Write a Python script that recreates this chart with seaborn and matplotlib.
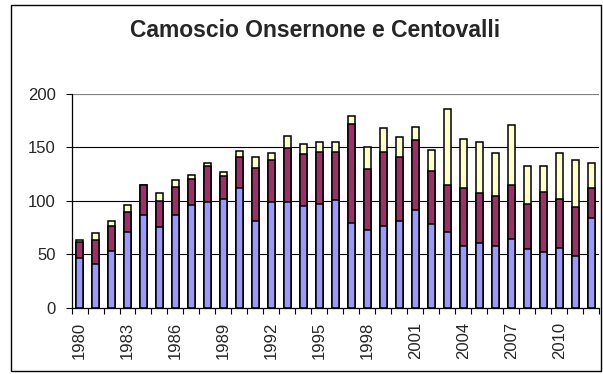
import matplotlib
matplotlib.use("Agg")
import matplotlib.pyplot as plt
from matplotlib.patches import Rectangle
import seaborn as sns
import pandas as pd
import numpy as np

years = list(range(1980, 2013))
tick_years = list(range(1980, 2011, 3))

# Stacked segments (bottom to top)
blue = [46, 41, 53, 71, 87, 75, 87, 96, 99, 102, 112, 81, 99, 99, 95, 97, 101,
        79, 73, 76, 81, 91, 78, 71, 58, 60, 58, 64, 55, 52, 56, 48, 84]
maroon = [15, 22, 23, 18, 28, 25, 26, 24, 34, 21, 29, 50, 39, 50, 49, 49, 45,
          93, 57, 70, 60, 66, 50, 44, 54, 47, 46, 51, 42, 56, 46, 46, 28]
yellow = [2, 7, 5, 7, 0, 7, 6, 4, 2, 4, 6, 10, 7, 12, 9, 9, 9,
          7, 20, 22, 19, 12, 20, 71, 46, 48, 41, 56, 36, 25, 43, 44, 23]

colors = ["#9999FF", "#993366", "#FFFFCC"]

sns.set_style("white")
plt.rcParams["font.family"] = ["Liberation Sans", "DejaVu Sans"]

df = pd.DataFrame({"year": [str(y) for y in years],
                   "blue": blue, "maroon": maroon, "yellow": yellow})
df["c1"] = df["blue"]
df["c2"] = df["blue"] + df["maroon"]
df["c3"] = df["c2"] + df["yellow"]

fig = plt.figure(figsize=(6.03, 3.74), dpi=100)
ax = fig.add_axes([0.1186, 0.1778, 0.994 - 0.1186, 0.7487 - 0.1778])

# Horizontal gridlines behind the bars
for v in [50, 100, 150]:
    ax.axhline(v, color="#000000", lw=0.8, zorder=0)
ax.axhline(200, color="#808080", lw=1.6, zorder=0)

# Cumulative layers drawn from the tallest down so each segment shows
for col, c in zip(["c3", "c2", "c1"], colors[::-1]):
    sns.barplot(data=df, x="year", y=col, color=c, width=0.43,
                edgecolor="black", linewidth=1.1, saturation=1,
                ax=ax, zorder=2)

ax.set_xlim(-0.5, len(years) - 0.5)
ax.set_ylim(0, 200)
ax.set_yticks([0, 50, 100, 150, 200])
ax.set_xlabel("")
ax.set_ylabel("")

# Category labels every three years, ticks between categories
ax.set_xticks([years.index(y) for y in tick_years])
ax.set_xticklabels([str(y) for y in tick_years], rotation=90, fontsize=12)
ax.tick_params(axis="x", length=0, pad=10.5)
ax.set_xticks(np.arange(-0.5, len(years), 1), minor=True)
ax.tick_params(axis="x", which="minor", length=4, width=0.8, direction="out",
               color="black", bottom=True)
ax.tick_params(axis="y", length=4.5, width=0.8, direction="out", color="black",
               labelsize=12, pad=7, left=True)

for s in ["top", "right"]:
    ax.spines[s].set_visible(False)
for s in ["left", "bottom"]:
    ax.spines[s].set_color("black")
    ax.spines[s].set_linewidth(0.9)
    ax.spines[s].set_zorder(3)

fig.text(0.522, 0.918, "Camoscio Onsernone e Centovalli", ha="center",
         va="center", fontsize=16.5, fontweight="bold")

# Chart border
fig.patches.append(Rectangle((11 / 603, 3 / 374), 590 / 603, 366 / 374,
                             transform=fig.transFigure, fill=False,
                             edgecolor="black", lw=1.0))

fig.savefig("out.png", dpi=100)
